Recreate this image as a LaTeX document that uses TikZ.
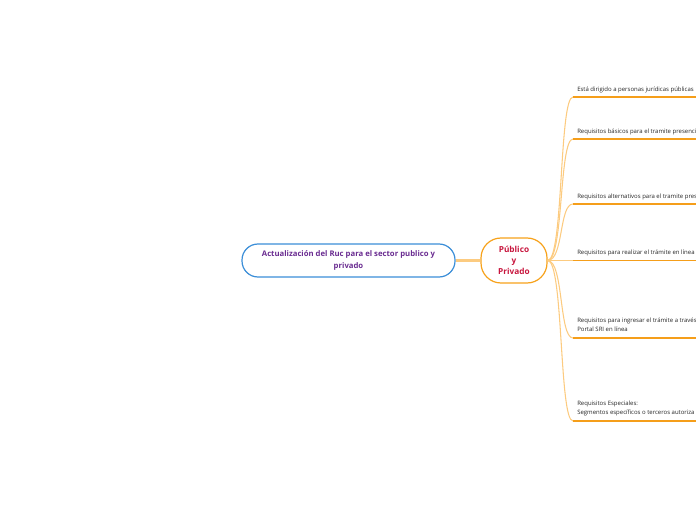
\documentclass[tikz,border=0pt]{standalone}
\usepackage{fontspec}
\setmainfont{Open Sans}
\usetikzlibrary{calc}
\definecolor{mainblue}{HTML}{3B8ED8}
\definecolor{mainpurple}{HTML}{6A2C91}
\definecolor{pubor}{HTML}{F7A21B}
\definecolor{pubred}{HTML}{C8163E}
\definecolor{lightor}{HTML}{FCCB80}
\definecolor{lineor}{HTML}{F59E1A}
\tikzset{
  mainbox/.style={draw=mainblue, line width=0.9pt, rounded corners=12pt, fill=white,
    minimum width=159.75pt, minimum height=24.75pt, inner sep=0pt, align=center,
    text=mainpurple, font=\fontsize{5.8}{9}\selectfont\bfseries},
  pubbox/.style={draw=pubor, line width=0.9pt, rounded corners=15pt, fill=white,
    minimum width=49.5pt, minimum height=33.75pt, inner sep=0pt, align=center,
    text=pubred, font=\fontsize{6.2}{8.25}\selectfont\bfseries},
  leaf/.style={anchor=west, inner sep=0pt, align=left, text=black!85,
    font=\fontsize{4.5}{6.9}\selectfont},
  branch/.style={draw=lightor, line width=0.8pt},
  underl/.style={draw=lineor, line width=1.2pt},
  link/.style={draw=lightor, line width=1.6pt}
}
\begin{document}
\begin{tikzpicture}[x=0.75pt, y=-0.75pt]
\useasboundingbox (0,0) rectangle (696,520);
\clip (0,0) rectangle (696,520);
\node[mainbox] (main) at (348.5,260.5) {Actualización del Ruc para el sector publico y\\privado};
\node[pubbox] (pub) at (514,260.5) {Público\\y\\Privado};
\draw[link] (main.east) -- (pub.west);

\coordinate (u1) at (573,97);  \coordinate (e1) at (700,97);
\coordinate (u2) at (573,139); \coordinate (e2) at (700,139);
\coordinate (u3) at (573,204); \coordinate (e3) at (700,204);
\coordinate (u4) at (573,260.5); \coordinate (e4) at (700,260.5);
\coordinate (u5) at (573,338); \coordinate (e5) at (700,338);
\coordinate (u6) at (573,421); \coordinate (e6) at (700,421);

\node[leaf] (t1) at (577,89.5) {Está dirigido a personas jurídicas públicas};
\node[leaf] (t2) at (577,131.5) {Requisitos básicos para el tramite presenci};
\node[leaf] (t3) at (577,196.5) {Requisitos alternativos para el tramite pres};
\node[leaf] (t4) at (577,252.5) {Requisitos para realizar el trámite en línea};
\node[leaf] (t5) at (577,324.5) {Requisitos para ingresar el trámite a través\\Portal SRI en línea};
\node[leaf] (t6) at (577,408.5) {Requisitos Especiales:\\Segmentos específicos o terceros autoriza};

\foreach \i in {1,2,3,5,6}{
  \draw[branch] (pub.east) .. controls ($(pub.east)+(16,0)$) and ($(u\i)+(-14,0)$) .. (u\i);
}
\draw[branch] (pub.east) -- (u4);
\foreach \i in {1,...,6}{
  \draw[underl] (u\i) -- (e\i);
}
\end{tikzpicture}
\end{document}
